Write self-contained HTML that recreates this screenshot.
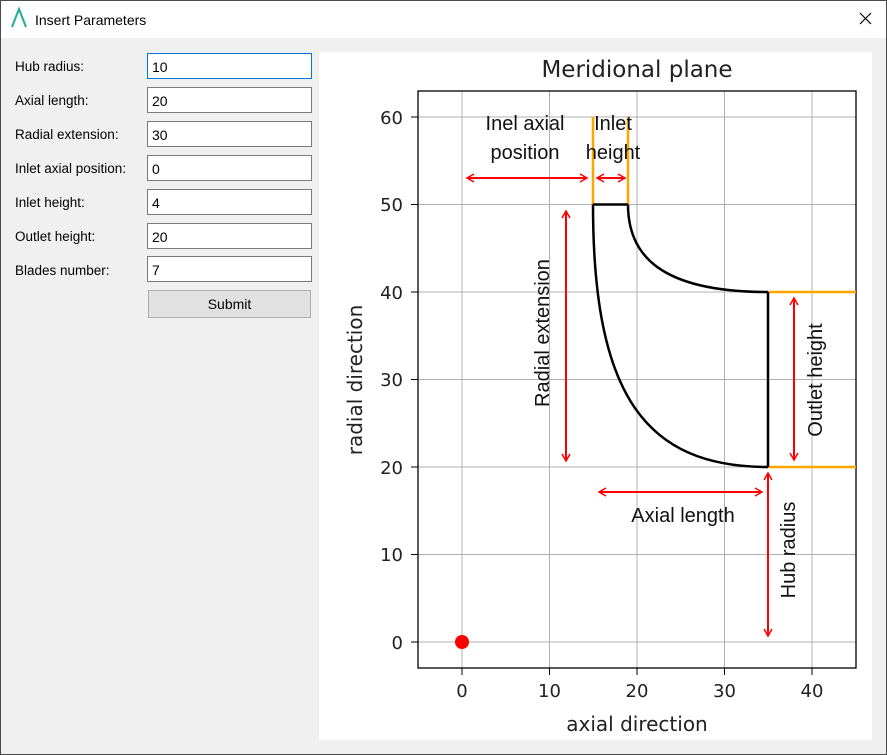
<!DOCTYPE html>
<html><head><meta charset="utf-8"><style>
*{margin:0;padding:0;box-sizing:border-box}
html,body{width:887px;height:755px;overflow:hidden;background:#f0f0f0;font-family:"Liberation Sans",sans-serif}
#win{position:absolute;left:0;top:0;width:887px;height:755px;border:1px solid #4a4a4a;background:#f0f0f0}
#title{position:absolute;left:0;top:0;width:885px;height:37px;background:#fff}
#title span{position:absolute;left:34px;top:11px;font-size:14px;color:#000}
.lbl{position:absolute;left:14px;font-size:13.5px;color:#000}
.inp{position:absolute;left:146px;width:165px;height:26px;background:#fff;border:1px solid #7a7a7a;font-size:14px;padding:5px 0 0 4px}
#btn{position:absolute;left:147px;top:289px;width:163px;height:28px;background:#e1e1e1;border:1px solid #adadad;font-size:14px;text-align:center;line-height:26px}
svg{position:absolute;left:0;top:0}
</style></head><body><div id="win">
<div id="title"><span>Insert Parameters</span></div>
<div class="lbl" style="top:58px">Hub radius:</div>
<div class="lbl" style="top:92px">Axial length:</div>
<div class="lbl" style="top:126px">Radial extension:</div>
<div class="lbl" style="top:160px">Inlet axial position:</div>
<div class="lbl" style="top:194px">Inlet height:</div>
<div class="lbl" style="top:228px">Outlet height:</div>
<div class="lbl" style="top:262px">Blades number:</div>
<div class="inp" style="top:52px;border-color:#0078d7">10</div>
<div class="inp" style="top:86px">20</div>
<div class="inp" style="top:120px">30</div>
<div class="inp" style="top:154px">0</div>
<div class="inp" style="top:188px">4</div>
<div class="inp" style="top:222px">20</div>
<div class="inp" style="top:255px">7</div>
<div id="btn">Submit</div>
</div>
<svg width="887" height="755" xmlns="http://www.w3.org/2000/svg">
<defs><marker id="a" markerWidth="10" markerHeight="10" refX="8" refY="5" orient="auto-start-reverse" markerUnits="userSpaceOnUse"><path d="M1,1 L8,5 L1,9" fill="none" stroke="#f00" stroke-width="1.5"/></marker></defs>
<path d="M12,27 L19,9 L26,27" fill="none" stroke="#2a9" stroke-width="2"/>
<path d="M860,13 L871,24 M871,13 L860,24" stroke="#000" stroke-width="1.2"/>
<rect x="319" y="52" width="553" height="688" fill="#fff"/>
<g stroke="#b0b0b0" stroke-width="1">
<path d="M462,91V668M549.5,91V668M637,91V668M724.5,91V668M812,91V668"/>
<path d="M418,642H856M418,554.5H856M418,467H856M418,379.5H856M418,292H856M418,204.5H856M418,117H856"/>
</g>
<g stroke="#000" stroke-width="1">
<path d="M462,668v7M549.5,668v7M637,668v7M724.5,668v7M812,668v7"/>
<path d="M418,642h-7M418,554.5h-7M418,467h-7M418,379.5h-7M418,292h-7M418,204.5h-7M418,117h-7"/>
</g>
<rect x="418" y="91" width="438" height="577" fill="none" stroke="#000" stroke-width="1.3"/>
<g font-family="DejaVu Sans,sans-serif" font-size="18" fill="#222">
<g text-anchor="middle"><text x="462" y="697">0</text><text x="549.5" y="697">10</text><text x="637" y="697">20</text><text x="724.5" y="697">30</text><text x="812" y="697">40</text></g>
<g text-anchor="end"><text x="403" y="649">0</text><text x="403" y="561">10</text><text x="403" y="474">20</text><text x="403" y="386">30</text><text x="403" y="299">40</text><text x="403" y="211">50</text><text x="403" y="124">60</text></g>
<text x="637" y="731" text-anchor="middle" font-size="20">axial direction</text>
<text transform="translate(362,380) rotate(-90)" text-anchor="middle" font-size="20">radial direction</text>
<text x="637" y="77" text-anchor="middle" font-size="23">Meridional plane</text>
</g>
<g stroke="orange" stroke-width="2.5" fill="none">
<path d="M593,117V204.5M628,117V204.5M768,292H856M768,467H856"/>
</g>
<g stroke="#000" stroke-width="2.5" fill="none">
<path d="M593,204.5H628"/>
<path d="M593,204.5 C593,395 645,467 768,467"/>
<path d="M628,204.5 C628,255 660,292 768,292"/>
<path d="M768,292V467"/>
</g>
<circle cx="462" cy="642" r="7" fill="#f00"/>
<g stroke="#f00" stroke-width="2" fill="none" marker-start="url(#a)" marker-end="url(#a)">
<path d="M467,178H587"/>
<path d="M597,178H625"/>
<path d="M566,211V461"/>
<path d="M794,298V460"/>
<path d="M599,492H762"/>
<path d="M768,473V636"/>
</g>
<g font-family="Liberation Sans,sans-serif" font-size="20" fill="#111" text-anchor="middle">
<text x="525" y="130">Inel axial</text>
<text x="525" y="159">position</text>
<text x="613" y="130">Inlet</text>
<text x="613" y="159">height</text>
<text x="683" y="522">Axial length</text>
<text transform="translate(549,333) rotate(-90)">Radial extension</text>
<text transform="translate(822,380) rotate(-90)">Outlet height</text>
<text transform="translate(795,550) rotate(-90)">Hub radius</text>
</g>
</svg>
</body></html>
